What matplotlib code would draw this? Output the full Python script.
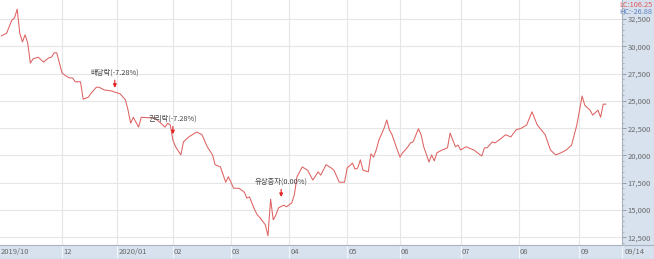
import matplotlib
matplotlib.use("Agg")
import matplotlib.pyplot as plt
from matplotlib.patches import Rectangle

plt.rcParams["font.family"] = ["Noto Sans CJK KR", "DejaVu Sans"]

# trading-day index (0 = first session on the chart) and closing price (KRW)
day = [0, 2, 4, 5, 6, 7, 8, 9, 10, 11, 12, 14, 16, 18, 19, 20, 21, 23, 25,
       26, 27, 28, 30, 31, 33, 34, 36, 37, 39, 42, 43, 45, 47, 48, 49, 50,
       52, 53, 56, 58, 60, 62, 63, 64, 65, 66, 68, 69, 71, 74, 76, 78, 80,
       81, 83, 85, 86, 88, 90, 92, 93, 94, 96, 97, 98, 100, 101, 102, 103,
       104, 105, 107, 108, 110, 111, 112, 114, 116, 118, 120, 121, 123, 125,
       126, 128, 130, 131, 133, 134, 135, 136, 137, 139, 140, 141, 142, 143,
       145, 146, 147, 148, 150, 151, 152, 153, 154, 155, 156, 158, 159, 160,
       162, 163, 164, 165, 167, 169, 170, 172, 173, 174, 176, 179, 182, 183,
       184, 186, 187, 189, 191, 193, 195, 197, 199, 201, 203, 204, 206, 208,
       210, 212, 214, 216, 218, 219, 220, 221, 223, 224, 226, 227, 228, 229]
close = [30950, 31200, 32400, 32600, 33400, 31200, 30400, 31050, 30300,
         28450, 28850, 29000, 28550, 28950, 29000, 29400, 29400, 27550, 27200,
         27100, 27100, 26750, 26750, 25150, 25350, 25700, 26250, 26250, 26000,
         25900, 25800, 25650, 25100, 24150, 22950, 23500, 22600, 23500, 23450,
         23450, 23050, 22600, 22950, 22800, 21400, 20800, 20050, 21250, 21700,
         22150, 21900, 20800, 20050, 19150, 18950, 17550, 18050, 17000, 17000,
         16650, 16100, 16200, 15000, 14550, 14300, 13650, 12650, 16000, 14100,
         14550, 15200, 15450, 15300, 15650, 16400, 18050, 18950, 18650, 17750,
         18500, 18200, 19150, 18850, 18650, 17550, 17550, 18850, 19300, 18750,
         18850, 19600, 18650, 18500, 20150, 19850, 20500, 21400, 22500, 23250,
         22350, 21900, 20500, 19850, 20250, 20500, 20800, 21150, 21250, 22450,
         21900, 20800, 19400, 20050, 19500, 20250, 20500, 20700, 22050, 20800,
         20950, 20500, 20800, 20500, 19950, 20700, 20700, 21250, 21150, 21500,
         21900, 21700, 22350, 22500, 22800, 24000, 22800, 22500, 21900, 20500,
         20050, 20250, 20500, 20950, 22800, 24150, 25450, 24600, 24150, 23700,
         24150, 23500, 24700, 24700]

month_day = [23, 44, 65, 87, 109, 131, 151, 174, 196, 219]
month_label = ["12", "2020/01", "02", "03", "04", "05", "06", "07", "08", "09"]
first_label = "2019/10"
last_label = "09/14"

event_day = [43, 65, 106]
event_price = [26200, 21950, 16200]
event_text = ["배당락(-7.28%)", "권리락(-7.28%)", "유상증자(0.00%)"]

y_ticks = list(range(12500, 32501, 2500))

W, H = 654, 259
px_per_day = 2.64
x0 = -0.5
x_main = x0 + 622 / px_per_day
x_full = x0 + W / px_per_day
panel = "#d8e2ef"
txt = "#6a6a6a"

fig = plt.figure(figsize=(W / 100, H / 100), dpi=100)
fig.patches.append(Rectangle((622 / W, 14 / H), 32 / W, 245 / H,
                             transform=fig.transFigure, color=panel, zorder=-1))

ax = fig.add_axes([0, 14 / H, 622 / W, 245 / H])
ax.plot(day, close, color="#de6262", lw=0.75, zorder=3)
ax.set_xlim(x0, x_main)
ax.set_ylim(11800, 34240)

ax.set_xticks(month_day)
ax.set_xticklabels([])
ax.tick_params(axis="x", length=0)
ax.yaxis.tick_right()
ax.set_yticks(y_ticks)
ax.set_yticklabels([f"{v:,}" for v in y_ticks])
ax.set_yticks(range(12000, 34001, 500), minor=True)
ax.tick_params(axis="y", which="major", length=3, width=0.6, color="#8a8f99",
               labelsize=5.5, labelcolor=txt, pad=1)
ax.tick_params(axis="y", which="minor", length=1.5, width=0.5, color="#9aa0aa")
ax.grid(True, which="major", color="#e6e6e6", lw=0.8)
for s in ["left", "top", "bottom"]:
    ax.spines[s].set_visible(False)
ax.spines["right"].set_color("#a8b2c0")
ax.spines["right"].set_linewidth(0.8)

for d, p, t in zip(event_day, event_price, event_text):
    ax.annotate(t, xy=(d, p), xytext=(0, 8), textcoords="offset points",
                ha="center", va="bottom", fontsize=5.3, color="#444444",
                arrowprops=dict(arrowstyle="-|>", color="#e02020", lw=0.8,
                                mutation_scale=5, shrinkA=0.5, shrinkB=0),
                zorder=4)

fig.text(652 / W, 1 - 1 / H, "LC:106.25", ha="right", va="top",
         fontsize=5.3, color="#e05a5a")
fig.text(652 / W, 1 - 8 / H, "HC:-26.88", ha="right", va="top",
         fontsize=5.3, color="#5a7fc0")

band = fig.add_axes([0, 0, 1, 14 / H])
band.set_facecolor(panel)
band.set_xlim(x0, x_full)
band.set_ylim(0, 1)
band.set_xticks([])
band.set_yticks([])
band.vlines(month_day + [x_main], 0, 1, color="#f2f5fa", lw=0.8)
band.text(x0 + 0.4, 0.5, first_label, fontsize=5.5, color=txt, va="center")
for d, lab in zip(month_day, month_label):
    band.text(d + 0.4, 0.5, lab, fontsize=5.5, color=txt, va="center")
band.text(x_main + 1.0, 0.5, last_label, fontsize=5.5, color=txt, va="center")
for s in band.spines.values():
    s.set_color("#a8b2c0")
    s.set_linewidth(0.8)
band.spines["left"].set_visible(False)
band.spines["right"].set_visible(False)

fig.savefig("out.png", dpi=100)
